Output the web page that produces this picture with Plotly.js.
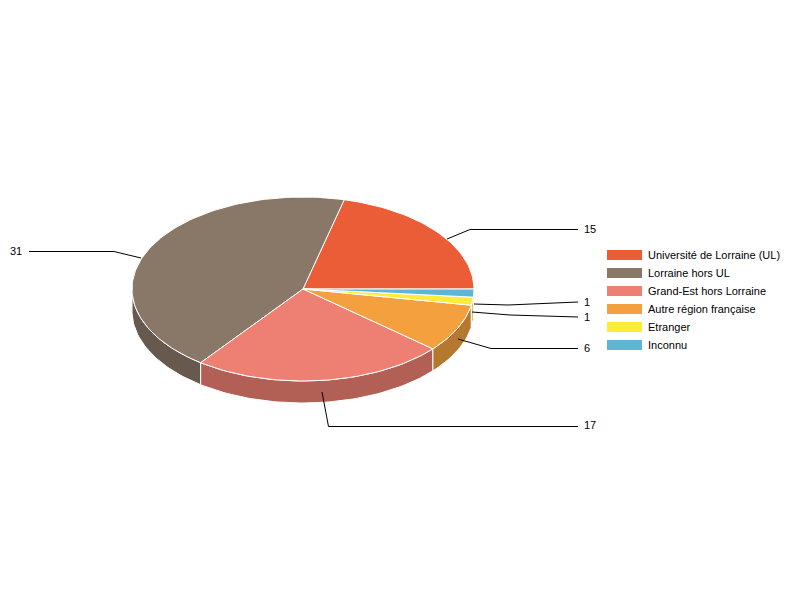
<!DOCTYPE html>
<html>
<head>
<meta charset="utf-8">
<script src="https://cdn.plot.ly/plotly-3.0.1.min.js"></script>
<style>html,body{margin:0;padding:0;background:#fff}#chart{width:800px;height:600px}</style>
</head>
<body>
<div id="chart"></div>
<script>
// Data
const categories = ["Université de Lorraine (UL)", "Lorraine hors UL", "Grand-Est hors Lorraine", "Autre région française", "Etranger", "Inconnu"];
const values = [15, 31, 17, 6, 1, 1];
const colors = ["#EA5D36", "#897767", "#EE8073", "#F4A03F", "#FFEB3B", "#5EB6D6"];
const sideColors = ["#B04628", "#67594D", "#B26055", "#B6772F", "#BFB02C", "#468AA0"];

// Page-space geometry of the tilted pie
const cx = 303, cy = 289, rx = 171, ry = 92, depth = 22;
// Leader lines [path points in px], and where each value label sits
const leaders = [
  {i: 0, pts: [[447,239],[470,229.5],[578,229.5]], lx: 590, ly: 229},
  {i: 1, pts: [[141,258],[114,251.5],[29,251.5]],  lx: 16,  ly: 251},
  {i: 2, pts: [[322,392],[328.5,426.5],[578,426.5]], lx: 590, ly: 425},
  {i: 3, pts: [[458,339],[491,348.5],[578,348.5]], lx: 587, ly: 348},
  {i: 4, pts: [[474,304],[508,305],[578,302]], lx: 587, ly: 302},
  {i: 5, pts: [[472,312],[510,315],[578,317]], lx: 587, ly: 317}
];
const legendLeft = 607, legendWidth = 35, legendHeight = 10, legendTop = 255, legendStep = 18, legendTextX = 648;
const FONT = "Liberation Sans, Arial, sans-serif";

const total = values.reduce((a, b) => a + b, 0);
function arc(a0, a1, dy) {
  const n = Math.max(2, Math.ceil(Math.abs(a1 - a0) / 1.5));
  const xs = [], ys = [];
  for (let k = 0; k <= n; k++) {
    const a = (a0 + (a1 - a0) * k / n) * Math.PI / 180;
    xs.push(cx + rx * Math.cos(a));
    ys.push(cy - ry * Math.sin(a) + dy);
  }
  return [xs, ys];
}

const traces = [];
const tops = [];
let start = 0;
values.forEach((v, i) => {
  const end = start + v / total * 360;
  // side wall: visible only on the front half (180..360 degrees)
  const s0 = Math.max(start, 180), s1 = Math.min(end, 360);
  if (s1 > s0) {
    const [xa, ya] = arc(s0, s1, 0);
    const [xb, yb] = arc(s1, s0, depth);
    traces.push({
      type: "scatter", mode: "lines", fill: "toself", fillcolor: sideColors[i],
      x: xa.concat(xb, [xa[0]]), y: ya.concat(yb, [ya[0]]),
      line: {color: "#ffffff", width: 1}, showlegend: false, hoverinfo: "skip"
    });
  }
  const [xt, yt] = arc(start, end, 0);
  tops.push({
    type: "scatter", mode: "lines", fill: "toself", fillcolor: colors[i],
    x: [cx].concat(xt, [cx]), y: [cy].concat(yt, [cy]),
    line: {color: "#ffffff", width: 1}, name: categories[i], showlegend: false,
    hoverinfo: "name"
  });
  start = end;
});

const shapes = [];
const annotations = [];
leaders.forEach(l => {
  shapes.push({
    type: "path", xref: "x", yref: "y",
    path: l.pts.map((p, k) => (k ? "L" : "M") + p[0] + "," + p[1]).join(" "),
    line: {color: "#000000", width: 1}
  });
  annotations.push({
    x: l.lx, y: l.ly, xref: "x", yref: "y", text: String(values[l.i]), showarrow: false,
    xanchor: "center", yanchor: "middle", font: {family: FONT, size: 11, color: "#000"}
  });
});
categories.forEach((c, i) => {
  const yc = legendTop + i * legendStep;
  shapes.push({
    type: "rect", xref: "x", yref: "y", x0: legendLeft, x1: legendLeft + legendWidth,
    y0: yc - legendHeight / 2, y1: yc + legendHeight / 2,
    fillcolor: colors[i], line: {width: 0}
  });
  annotations.push({
    x: legendTextX, y: yc, xref: "x", yref: "y", text: c, showarrow: false,
    xanchor: "left", yanchor: "middle", xshift: -2, font: {family: FONT, size: 11, color: "#000"}
  });
});

const hidden = {visible: false, fixedrange: true};
Plotly.newPlot("chart", traces.concat(tops), {
  width: 800, height: 600,
  margin: {l: 0, r: 0, t: 0, b: 0},
  paper_bgcolor: "#fff", plot_bgcolor: "#fff",
  showlegend: false,
  xaxis: Object.assign({range: [0, 800]}, hidden),
  yaxis: Object.assign({range: [600, 0]}, hidden),
  shapes, annotations
}, {displayModeBar: false});
</script>
</body>
</html>
